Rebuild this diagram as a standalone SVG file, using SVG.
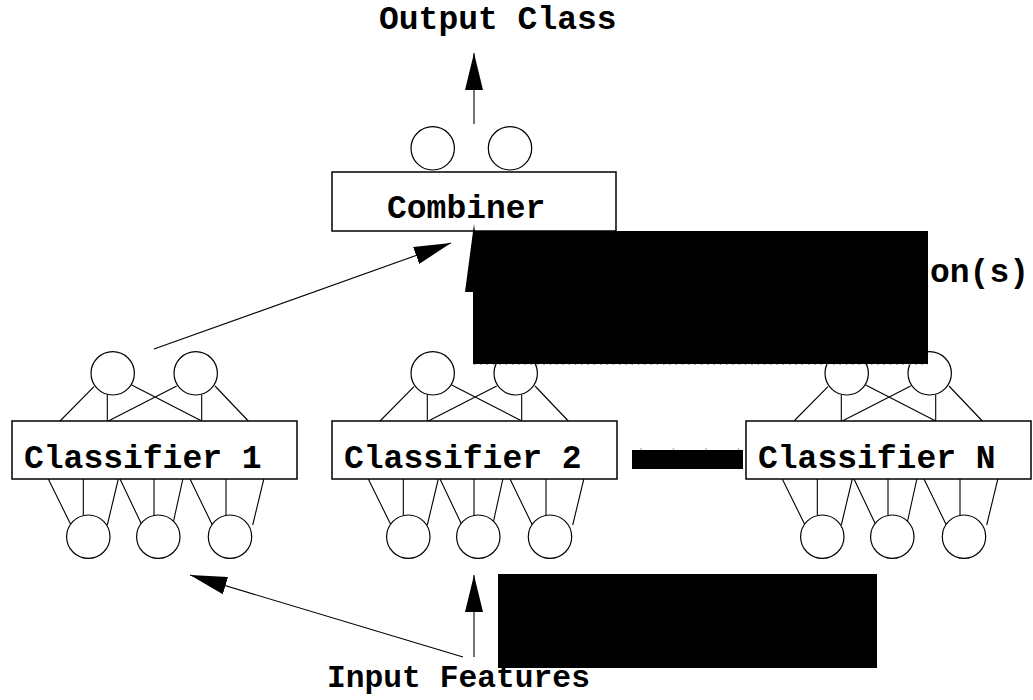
<svg xmlns="http://www.w3.org/2000/svg" xmlns:xlink="http://www.w3.org/1999/xlink" width="1033" height="700" viewBox="0 0 1033 700">
  <style>
    .ln { stroke: #000; stroke-width: 1.1; fill: none; }
    .nd { stroke: #000; stroke-width: 1.2; fill: #fff; }
    .bx { stroke: #000; stroke-width: 1.5; fill: #fff; }
    .lbl { font-family: "Liberation Mono", "Courier New", monospace; font-weight: bold; font-size: 33px; fill: #000; }
    .mask { fill: #000; }
    .ghost { stroke: #999; stroke-width: 1.2; fill: none; }
  </style>
  <defs>
    <marker id="head" markerUnits="userSpaceOnUse" viewBox="0 0 37 18" refX="37" refY="9" markerWidth="37" markerHeight="18" orient="auto">
      <path d="M0,0 L37,9 L0,18 z" fill="#000"/>
    </marker>
    <!-- small two-layer net drawn around each classifier box (x relative to box left) -->
    <g id="net">
      <circle class="nd" cx="100.7" cy="373.3" r="21.7"/>
      <circle class="nd" cx="183.7" cy="373.3" r="21.7"/>
      <path class="ln" d="M82,386.7 L48,421 M95.3,395 L95.3,421 M119.7,385 L189.7,421 M164.7,386 L96.3,421 M189.7,395 L189.7,421 M203,386 L236.3,421"/>
      <path class="ln" d="M36.3,479 L59,525 M71.3,479 L71.3,515 M106.3,479 L95.3,525 M108,479 L130.7,526.7 M142,479 L142,515 M171.3,477 L160.7,525 M178,479 L201.3,527 M214,479 L214,515 M252.3,477 L240.7,525"/>
      <circle class="nd" cx="76.3" cy="536.7" r="21.7"/>
      <circle class="nd" cx="146.3" cy="536.7" r="21.7"/>
      <circle class="nd" cx="218" cy="536.7" r="21.7"/>
    </g>
  </defs>

  <rect width="1033" height="700" fill="#fff"/>

  <g id="classifier-1" transform="translate(12,0)">
    <use xlink:href="#net"/>
    <rect class="bx" x="0" y="421" width="285" height="58"/>
    <text class="lbl" x="12" y="468">Classifier 1</text>
  </g>

  <g id="classifier-2" transform="translate(332,0)">
    <use xlink:href="#net"/>
    <rect class="bx" x="0" y="421" width="285" height="58"/>
    <text class="lbl" x="12" y="468">Classifier 2</text>
  </g>

  <g id="classifier-n" transform="translate(746,0)">
    <use xlink:href="#net"/>
    <rect class="bx" x="0" y="421" width="285" height="58"/>
    <text class="lbl" x="12" y="468">Classifier N</text>
  </g>

  <g id="combiner">
    <circle class="nd" cx="432.7" cy="148.3" r="21.7"/>
    <circle class="nd" cx="510" cy="148.3" r="21.7"/>
    <rect class="bx" x="332" y="172" width="284" height="59"/>
    <text class="lbl" x="387" y="218">Combiner</text>
  </g>

  <g id="connectors">
    <line class="ln" x1="474" y1="124" x2="474" y2="53" marker-end="url(#head)"/>
    <line class="ln" x1="154" y1="349" x2="451" y2="243" marker-end="url(#head)"/>
    <line class="ln" x1="474" y1="363" x2="474" y2="250"/>
    <polygon points="465,292 474,224 483,292" fill="#000"/>
    <line class="ln" x1="474" y1="657" x2="474" y2="575" marker-end="url(#head)"/>
    <line class="ln" x1="463" y1="657" x2="190" y2="575" marker-end="url(#head)"/>
    <line class="ghost" x1="474" y1="364.5" x2="928" y2="364.5" stroke-dasharray="1.5 4.8"/>
    <line class="ghost" x1="640" y1="449" x2="742" y2="449" stroke-dasharray="2 30.5"/>
  </g>

  <g id="labels">
    <text class="lbl" x="379" y="29">Output Class</text>
    <text class="lbl" x="930" y="282">on(s)</text>
    <text class="lbl" x="327" y="687" style="font-size:31.3px">Input Features</text>
  </g>

  <g id="masks">
    <rect class="mask" x="473" y="231" width="455" height="133"/>
    <rect class="mask" x="632" y="450" width="111" height="19"/>
    <rect class="mask" x="498" y="574" width="379" height="94"/>
  </g>
</svg>
